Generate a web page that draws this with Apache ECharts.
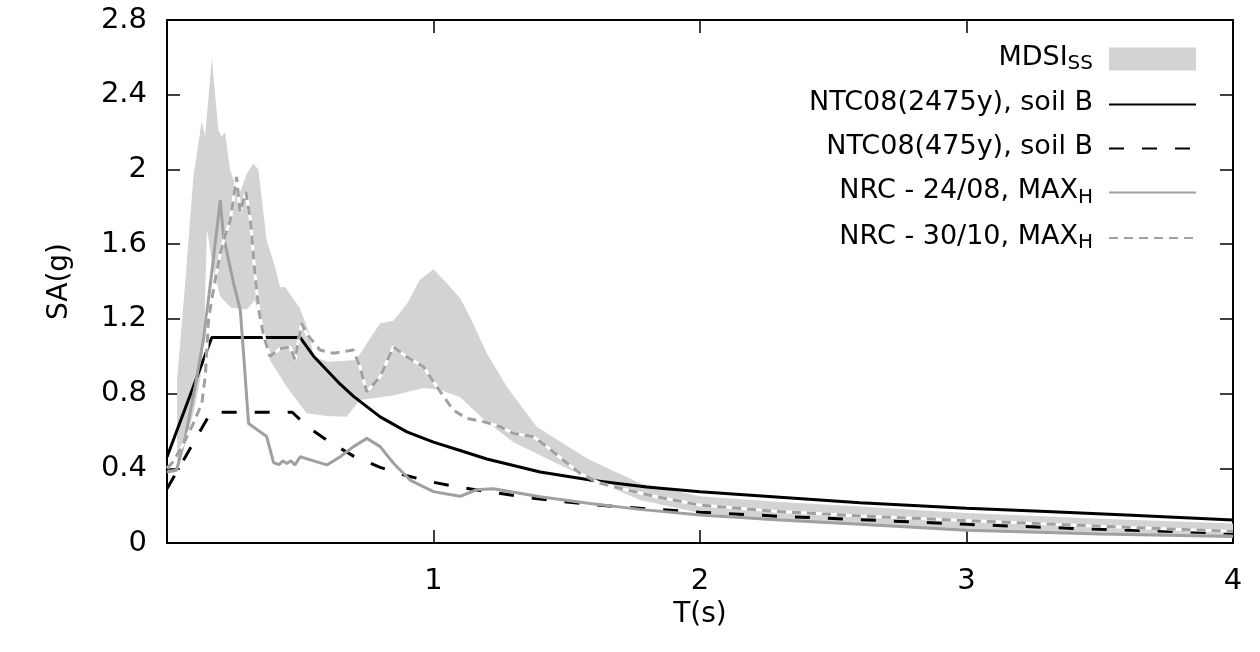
<!DOCTYPE html>
<html>
<head>
<meta charset="utf-8">
<script src="https://cdn.jsdelivr.net/npm/echarts@6/dist/echarts.min.js"></script>
<style>
  html, body { margin: 0; padding: 0; background: #fff; }
  #main { width: 1260px; height: 652px; }
</style>
</head>
<body>
<div id="main"></div>
<script>
// response spectra: SA(g) against period T(s)

// MDSI_SS band, upper and lower edge
var bandUpT = [0.038, 0.07, 0.099, 0.13, 0.143, 0.168, 0.193, 0.205, 0.218, 0.236, 0.255, 0.275, 0.30, 0.324, 0.343,
  0.374, 0.405, 0.424, 0.443, 0.499, 0.53, 0.55, 0.60, 0.71, 0.75, 0.80, 0.849, 0.90, 0.949, 1.0,
  1.05, 1.10, 1.137, 1.20, 1.275, 1.387, 1.50, 1.587, 1.775, 2.0, 2.3, 2.6, 3.0, 3.5, 4.0];
var bandUpSA = [0.88, 1.42, 1.96, 2.255, 2.175, 2.595, 2.21, 2.175, 2.20, 2.0, 1.92, 1.88, 1.98, 2.03, 2.0,
  1.62, 1.48, 1.37, 1.37, 1.256, 1.14, 1.0, 0.97, 0.98, 1.07, 1.176, 1.19, 1.28, 1.41, 1.465,
  1.39, 1.31, 1.21, 1.016, 0.837, 0.623, 0.52, 0.444, 0.32, 0.25, 0.22, 0.195, 0.16, 0.13, 0.105];
var bandLoT = [0.038, 0.07, 0.10, 0.125, 0.14, 0.15, 0.175, 0.20, 0.24, 0.30, 0.33, 0.386, 0.449, 0.524, 0.60,
  0.674, 0.724, 0.849, 0.962, 1.024, 1.10, 1.19, 1.30, 1.40, 1.50, 1.587, 1.775, 2.0, 2.3, 2.6,
  3.0, 3.5, 4.0];
var bandLoSA = [0.43, 0.55, 0.70, 0.88, 1.15, 1.68, 1.45, 1.32, 1.26, 1.25, 1.30, 0.98, 0.837, 0.694, 0.68,
  0.676, 0.766, 0.79, 0.83, 0.82, 0.78, 0.66, 0.54, 0.47, 0.40, 0.345, 0.23, 0.16, 0.122, 0.10,
  0.068, 0.05, 0.035];

// NTC08 design spectra, soil B
var ntc2475T = [0, 0.168, 0.50, 0.55, 0.60, 0.65, 0.70, 0.80, 0.90, 1.00, 1.10, 1.20, 1.40, 1.60, 1.80, 2.00,
  2.30, 2.60, 3.00, 3.30, 3.60, 4.00];
var ntc2475SA = [0.46, 1.10, 1.10, 1.00, 0.925, 0.85, 0.785, 0.675, 0.595, 0.54, 0.495, 0.45, 0.38, 0.335, 0.30, 0.275,
  0.245, 0.215, 0.186, 0.168, 0.15, 0.123];
var ntc475T = [0, 0.165, 0.47, 0.50, 0.55, 0.60, 0.70, 0.80, 0.90, 1.00, 1.10, 1.20, 1.40, 1.60, 1.80, 2.00,
  2.30, 2.60, 3.00, 3.50, 4.00];
var ntc475SA = [0.29, 0.70, 0.70, 0.66, 0.60, 0.55, 0.465, 0.405, 0.36, 0.325, 0.298, 0.275, 0.235, 0.205, 0.183, 0.165,
  0.143, 0.125, 0.10, 0.073, 0.052];

// NRC records, max horizontal
var nrc2408T = [0, 0.036, 0.069, 0.106, 0.138, 0.169, 0.20, 0.212, 0.25, 0.275, 0.288, 0.306, 0.331, 0.374, 0.40,
  0.42, 0.435, 0.449, 0.465, 0.48, 0.50, 0.55, 0.60, 0.65, 0.70, 0.75, 0.80, 0.85, 0.912, 1.00,
  1.05, 1.10, 1.162, 1.225, 1.40, 1.587, 1.775, 2.00, 2.30, 2.60, 3.00, 3.50, 4.00];
var nrc2408SA = [0.38, 0.39, 0.57, 0.84, 1.10, 1.46, 1.836, 1.64, 1.39, 1.247, 1.0, 0.64, 0.614, 0.57, 0.43,
  0.42, 0.44, 0.425, 0.44, 0.418, 0.462, 0.44, 0.418, 0.462, 0.516, 0.56, 0.516, 0.427, 0.337, 0.275,
  0.262, 0.25, 0.285, 0.29, 0.248, 0.212, 0.18, 0.15, 0.123, 0.10, 0.068, 0.048, 0.035];
var nrc3010T = [0, 0.02, 0.056, 0.099, 0.131, 0.144, 0.156, 0.17, 0.181, 0.20, 0.219, 0.238, 0.261, 0.274, 0.296,
  0.313, 0.33, 0.344, 0.361, 0.386, 0.424, 0.462, 0.48, 0.505, 0.524, 0.574, 0.624, 0.699, 0.724, 0.749,
  0.80, 0.849, 0.90, 0.962, 1.012, 1.074, 1.125, 1.187, 1.25, 1.30, 1.375, 1.425, 1.487, 1.55, 1.625,
  1.725, 1.837, 2.00, 2.30, 2.60, 3.00, 3.50, 4.00];
var nrc3010SA = [0.40, 0.43, 0.515, 0.64, 0.75, 0.90, 1.20, 1.32, 1.41, 1.55, 1.65, 1.73, 1.96, 1.77, 1.88,
  1.73, 1.44, 1.25, 1.12, 1.00, 1.04, 1.05, 0.98, 1.176, 1.12, 1.033, 1.016, 1.033, 0.944, 0.81,
  0.89, 1.05, 0.997, 0.944, 0.837, 0.712, 0.667, 0.65, 0.623, 0.587, 0.569, 0.516, 0.444, 0.373, 0.32,
  0.284, 0.248, 0.203, 0.168, 0.145, 0.12, 0.09, 0.062];

var names = ["MDSI_SS", "NTC08(2475y), soil B", "NTC08(475y), soil B", "NRC - 24/08, MAX_H", "NRC - 30/10, MAX_H"];
var legendText = {
  "MDSI_SS": "{a|MDSI}{s|SS}{g| }",
  "NTC08(2475y), soil B": "{a|NTC08(2475y), soil B}{g| }",
  "NTC08(475y), soil B": "{a|NTC08(475y), soil B}{g| }",
  "NRC - 24/08, MAX_H": "{a|NRC - 24/08, MAX}{s|H}{g| }",
  "NRC - 30/10, MAX_H": "{a|NRC - 30/10, MAX}{s|H}{g| }"
};

var FONT = "DejaVu Sans";
var GREY = "#a0a0a0";

function pairs(t, v) {
  return t.map(function (x, i) { return [x, v[i]]; });
}

var chart = echarts.init(document.getElementById("main"));

var axisLine = { show: true, onZero: false, lineStyle: { color: "#000", width: 2 } };
var axisTick = { show: true, inside: true, length: 13, lineStyle: { color: "#000", width: 1.5 } };

var option = {
  animation: false,
  backgroundColor: "#fff",
  textStyle: { fontFamily: FONT },
  grid: { left: 167, right: 27, top: 20, bottom: 109 },
  legend: {
    orient: "vertical",
    align: "right",
    right: 63,
    top: 44,
    padding: 0,
    itemWidth: 87,
    itemHeight: 23,
    itemGap: 15.5,
    data: [
      { name: names[0], icon: "rect", itemStyle: { color: "#d3d3d3" } },
      { name: names[1], itemStyle: { opacity: 0 } },
      { name: names[2], itemStyle: { opacity: 0 } },
      { name: names[3], itemStyle: { opacity: 0 } },
      { name: names[4], itemStyle: { opacity: 0 } }
    ],
    formatter: function (name) { return legendText[name]; },
    textStyle: {
      fontFamily: FONT,
      fontSize: 27,
      color: "#000",
      rich: {
        a: { fontFamily: FONT, fontSize: 27, color: "#000", lineHeight: 30, verticalAlign: "top" },
        s: { fontFamily: FONT, fontSize: 20, color: "#000", lineHeight: 9, verticalAlign: "bottom" },
        g: { width: 11, lineHeight: 30 }
      }
    }
  },
  xAxis: [
    {
      type: "value", min: 0, max: 4, interval: 1,
      name: "T(s)", nameLocation: "middle", nameGap: 47,
      nameTextStyle: { fontFamily: FONT, fontSize: 28, color: "#000" },
      axisLine: axisLine, axisTick: axisTick, splitLine: { show: false },
      axisLabel: {
        margin: 24, fontFamily: FONT, fontSize: 29, color: "#000",
        formatter: function (v) { return v === 0 ? "" : String(v); }
      }
    },
    {
      type: "value", position: "top", min: 0, max: 4, interval: 1,
      axisLine: axisLine, axisTick: axisTick, splitLine: { show: false },
      axisLabel: { show: false }
    }
  ],
  yAxis: [
    {
      type: "value", min: 0, max: 2.8, interval: 0.4,
      name: "SA(g)", nameLocation: "middle", nameGap: 93, nameRotate: 90,
      nameTextStyle: { fontFamily: FONT, fontSize: 28, color: "#000" },
      axisLine: axisLine, axisTick: axisTick, splitLine: { show: false },
      axisLabel: { margin: 20, fontFamily: FONT, fontSize: 29, color: "#000" }
    },
    {
      type: "value", position: "right", min: 0, max: 2.8, interval: 0.4,
      axisLine: axisLine, axisTick: axisTick, splitLine: { show: false },
      axisLabel: { show: false }
    }
  ],
  series: [
    {
      name: names[0],
      type: "custom",
      z: 1,
      color: "#d3d3d3",
      itemStyle: { color: "#d3d3d3" },
      data: [0],
      clip: true,
      renderItem: function (params, api) {
        var pts = [];
        for (var i = 0; i < bandUpT.length; i++) pts.push(api.coord([bandUpT[i], bandUpSA[i]]));
        for (var j = bandLoT.length - 1; j >= 0; j--) pts.push(api.coord([bandLoT[j], bandLoSA[j]]));
        return { type: "polygon", shape: { points: pts }, style: { fill: "#d3d3d3", stroke: null } };
      }
    },
    {
      name: names[1], type: "line", z: 3, symbol: "none", color: "#000",
      lineStyle: { color: "#000", width: 3 },
      data: pairs(ntc2475T, ntc2475SA)
    },
    {
      name: names[2], type: "line", z: 3, symbol: "none", color: "#000",
      lineStyle: { color: "#000", width: 3, type: [15, 18] },
      data: pairs(ntc475T, ntc475SA)
    },
    {
      name: names[3], type: "line", z: 3, symbol: "none", color: GREY,
      lineStyle: { color: GREY, width: 3 },
      data: pairs(nrc2408T, nrc2408SA)
    },
    {
      name: "underlay", type: "line", z: 3, symbol: "none", color: "#fff",
      lineStyle: { color: "#fff", width: 3 },
      data: pairs(nrc3010T, nrc3010SA)
    },
    {
      name: names[4], type: "line", z: 3, symbol: "none", color: GREY,
      lineStyle: { color: GREY, width: 3, type: [9, 6] },
      data: pairs(nrc3010T, nrc3010SA)
    }
  ]
};

chart.setOption(option);
</script>
</body>
</html>
